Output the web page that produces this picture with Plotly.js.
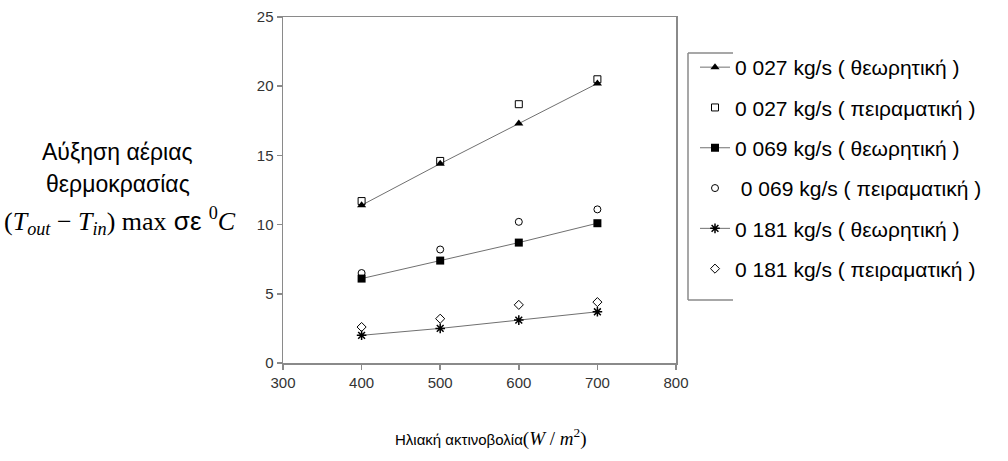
<!DOCTYPE html>
<html>
<head>
<meta charset="utf-8">
<script src="https://cdn.plot.ly/plotly-3.0.1.min.js"></script>
<style>html,body{margin:0;padding:0;background:#fff;}#chart{width:1008px;height:461px;}</style>
</head>
<body>
<div id="chart"></div>
<script>
// Data
var radiation = [400, 500, 600, 700];
var theor027 = [11.4, 14.4, 17.3, 20.2];
var exper027 = [11.7, 14.6, 18.7, 20.5];
var theor069 = [6.1, 7.4, 8.7, 10.1];
var exper069 = [6.5, 8.2, 10.2, 11.1];
var theor181 = [2.0, 2.5, 3.1, 3.7];
var exper181 = [2.6, 3.2, 4.2, 4.4];
var seriesNames = [
  "0 027 kg/s ( θεωρητική )",
  "0 027 kg/s ( πειραματική )",
  "0 069 kg/s ( θεωρητική )",
  " 0 069 kg/s ( πειραματική )",
  "0 181 kg/s ( θεωρητική )",
  "0 181 kg/s ( πειραματική )"
];
var xTicks = [300, 400, 500, 600, 700, 800];
var yTicks = [0, 5, 10, 15, 20, 25];

function theo(y, name, symbol, group) {
  return {
    x: radiation, y: y, name: name, type: 'scatter', mode: 'lines+markers',
    legendgroup: group,
    line: {color: '#707070', width: 1},
    marker: {symbol: symbol, size: 8, color: '#000', line: {color: '#000', width: symbol.indexOf('asterisk') === 0 ? 1.5 : 0}}
  };
}
function expe(y, name, symbol, group) {
  return {
    x: radiation, y: y, name: name, type: 'scatter', mode: 'markers',
    legendgroup: group,
    marker: {symbol: symbol, size: 7, color: '#000', line: {color: '#000', width: 1}}
  };
}

var traces = [
  theo(theor027, seriesNames[0], 'triangle-up', 'g1'),
  expe(exper027, seriesNames[1], 'square-open', 'g2'),
  theo(theor069, seriesNames[2], 'square', 'g3'),
  expe(exper069, seriesNames[3], 'circle-open', 'g4'),
  theo(theor181, seriesNames[4], 'asterisk-open', 'g5'),
  expe(exper181, seriesNames[5], 'diamond-open', 'g6')
];

var L = 283, R = 676, T = 17, B = 363, W = 1008, H = 461;
function px(x) { return (x - L) / (R - L); }
function py(y) { return (B - y) / (B - T); }

var axisCommon = {
  showgrid: false, zeroline: false, showline: true, mirror: true,
  linecolor: '#8a8a8a', linewidth: 1.5,
  ticks: 'outside', ticklen: 5, tickcolor: '#8a8a8a', tickwidth: 1.5,
  tickfont: {family: 'Liberation Sans, Arial, sans-serif', size: 15, color: '#333'}
};

var layout = {
  width: W, height: H,
  margin: {l: L, r: W - R, t: T, b: H - B},
  paper_bgcolor: '#fff', plot_bgcolor: '#fff',
  showlegend: true,
  legend: {
    x: px(695), y: py(47), xanchor: 'left', yanchor: 'top',
    bgcolor: 'rgba(0,0,0,0)', borderwidth: 0,
    tracegroupgap: 10, traceorder: 'grouped',
    font: {family: 'Liberation Sans, Arial, sans-serif', size: 21, color: '#000'}
  },
  xaxis: Object.assign({}, axisCommon, {range: [300, 800], tickvals: xTicks, ticktext: xTicks.map(String)}),
  yaxis: Object.assign({}, axisCommon, {range: [0, 25], tickvals: yTicks, ticktext: yTicks.map(String)}),
  shapes: [
    {type: 'line', xref: 'paper', yref: 'paper', x0: px(688), x1: px(688), y0: py(53), y1: py(300), line: {color: '#8a8a8a', width: 1.5}},
    {type: 'line', xref: 'paper', yref: 'paper', x0: px(688), x1: px(733), y0: py(53), y1: py(53), line: {color: '#8a8a8a', width: 1.5}},
    {type: 'line', xref: 'paper', yref: 'paper', x0: px(688), x1: px(733), y0: py(300), y1: py(300), line: {color: '#8a8a8a', width: 1.5}}
  ],
  annotations: [
    {xref: 'paper', yref: 'paper', x: px(117), y: py(152), xanchor: 'center', yanchor: 'middle', showarrow: false,
     text: 'Αύξηση αέριας', font: {family: 'Liberation Sans, Arial, sans-serif', size: 23, color: '#000'}},
    {xref: 'paper', yref: 'paper', x: px(118), y: py(184), xanchor: 'center', yanchor: 'middle', showarrow: false,
     text: 'θερμοκρασίας', font: {family: 'Liberation Sans, Arial, sans-serif', size: 23, color: '#000'}},
    {xref: 'paper', yref: 'paper', x: px(120), y: py(221), xanchor: 'center', yanchor: 'middle', showarrow: false,
     text: '<span style="font-family:Liberation Serif">(<i>T</i><sub><i>out</i></sub> − <i>T</i><sub><i>in</i></sub>) max</span> σε <sup><span style="font-family:Liberation Serif">0</span></sup><span style="font-family:Liberation Serif"><i>C</i></span>',
     font: {family: 'Liberation Sans, Arial, sans-serif', size: 26, color: '#000'}},
    {xref: 'paper', yref: 'paper', x: px(490), y: py(437), xanchor: 'center', yanchor: 'middle', showarrow: false,
     text: 'Ηλιακή ακτινοβολία<span style="font-family:Liberation Serif;font-size:19px">(<i>W</i> / <i>m</i><sup>2</sup>)</span>',
     font: {family: 'Liberation Sans, Arial, sans-serif', size: 15, color: '#000'}}
  ]
};

Plotly.newPlot('chart', traces, layout, {displayModeBar: false, staticPlot: true});
</script>
</body>
</html>
